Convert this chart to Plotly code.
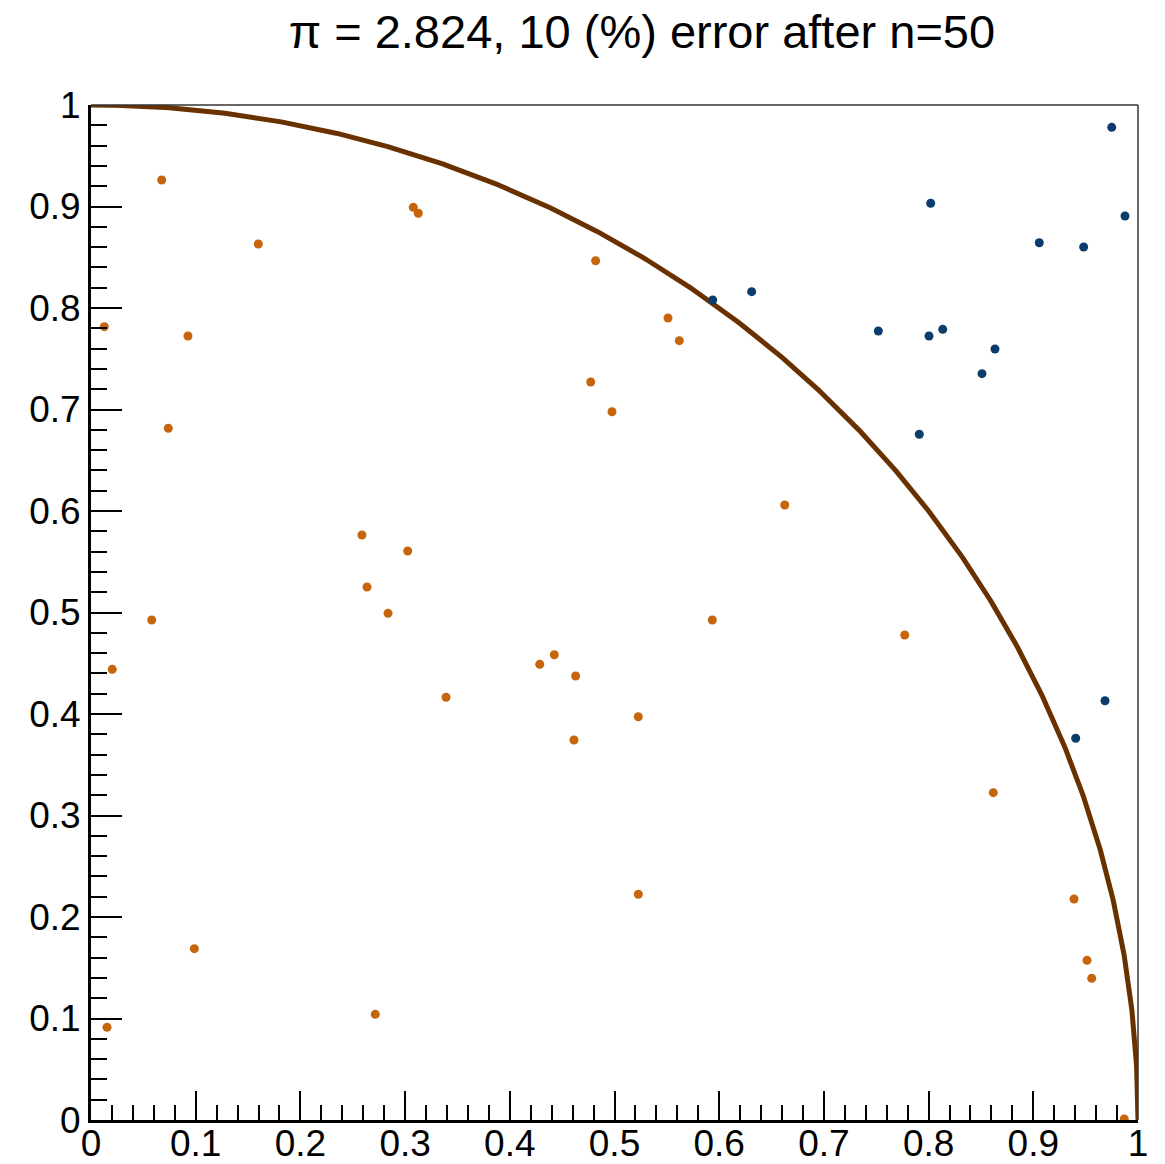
import numpy as np
import plotly.graph_objects as go

# Sampled points falling inside the unit quarter circle
x_in = [0.0675, 0.3078, 0.3126, 0.1598, 0.0127, 0.0926, 0.0738, 0.4820, 0.5511,
        0.5619, 0.4773, 0.4976, 0.2588, 0.3025, 0.2636, 0.2837, 0.0580, 0.0203,
        0.3391, 0.6626, 0.5934, 0.4425, 0.4286, 0.4629, 0.5227, 0.4613, 0.7772,
        0.0987, 0.2715, 0.0153, 0.5227, 0.8618, 0.9389, 0.9513, 0.9558, 0.9869]
y_in = [0.9261, 0.8992, 0.8933, 0.8631, 0.7816, 0.7724, 0.6815, 0.8466, 0.7901,
        0.7678, 0.7271, 0.6978, 0.5764, 0.5606, 0.5251, 0.4992, 0.4926, 0.4440,
        0.4165, 0.6059, 0.4926, 0.4584, 0.4490, 0.4374, 0.3973, 0.3744, 0.4778,
        0.1688, 0.1041, 0.0913, 0.2224, 0.3225, 0.2177, 0.1573, 0.1396, 0.0010]

# Sampled points falling outside it
x_out = [0.5938, 0.6310, 0.9749, 0.8020, 0.9876, 0.9057, 0.9481, 0.7520, 0.8004,
         0.8135, 0.8634, 0.8510, 0.7911, 0.9685, 0.9405]
y_out = [0.8079, 0.8161, 0.9780, 0.9032, 0.8906, 0.8643, 0.8601, 0.7773, 0.7724,
         0.7790, 0.7596, 0.7353, 0.6756, 0.4131, 0.3761]

title_text = "π = 2.824, 10 (%) error after n=50"
tick_vals = [round(0.1 * i, 1) for i in range(11)]
tick_text = ["0", "0.1", "0.2", "0.3", "0.4", "0.5", "0.6", "0.7", "0.8", "0.9", "1"]

# Quarter of the unit circle
theta = np.linspace(0, np.pi / 2, 400)
circ_x = np.cos(theta)
circ_y = np.sin(theta)

fig = go.Figure()
fig.add_trace(go.Scatter(x=circ_x, y=circ_y, mode="lines",
                         line=dict(color="#693100", width=5),
                         hoverinfo="skip", showlegend=False))
fig.add_trace(go.Scatter(x=x_in, y=y_in, mode="markers",
                         marker=dict(color="#c6650b", size=9, line=dict(width=0)),
                         showlegend=False))
fig.add_trace(go.Scatter(x=x_out, y=y_out, mode="markers",
                         marker=dict(color="#0b3c6c", size=9, line=dict(width=0)),
                         showlegend=False))

axis_common = dict(
    range=[0, 1], showgrid=False, zeroline=False,
    showline=True, linecolor="black", linewidth=3, mirror=False,
    ticks="inside", tickwidth=2, tickcolor="black",
    tickvals=tick_vals, ticktext=tick_text,
    tickfont=dict(family="Liberation Sans, Arial, sans-serif", size=37, color="black"),
)

fig.update_xaxes(**axis_common, ticklen=29, ticklabelstandoff=-11,
                 minor=dict(ticks="inside", ticklen=15, tickwidth=2,
                            tickcolor="black", dtick=0.02, tick0=0))
fig.update_yaxes(**axis_common, ticklen=31,
                 minor=dict(ticks="inside", ticklen=16, tickwidth=2,
                            tickcolor="black", dtick=0.02, tick0=0))

# thin frame on the top and right sides
fig.add_shape(type="line", xref="x domain", yref="y domain", x0=0, x1=1, y0=1, y1=1,
              line=dict(color="#333333", width=1.5), layer="above")
fig.add_shape(type="line", xref="x domain", yref="y domain", x0=1, x1=1, y0=0, y1=1,
              line=dict(color="#333333", width=1.5), layer="above")

fig.update_layout(
    width=1165, height=1164,
    margin=dict(l=91, r=27, t=105, b=44, autoexpand=False),
    paper_bgcolor="white", plot_bgcolor="white",
    title=dict(text=title_text, x=0.551, xanchor="center", xref="container",
               y=0.9725, yanchor="middle", yref="container",
               font=dict(family="Liberation Sans, Arial, sans-serif", size=47, color="black")),
)

fig.write_html("out.html")
